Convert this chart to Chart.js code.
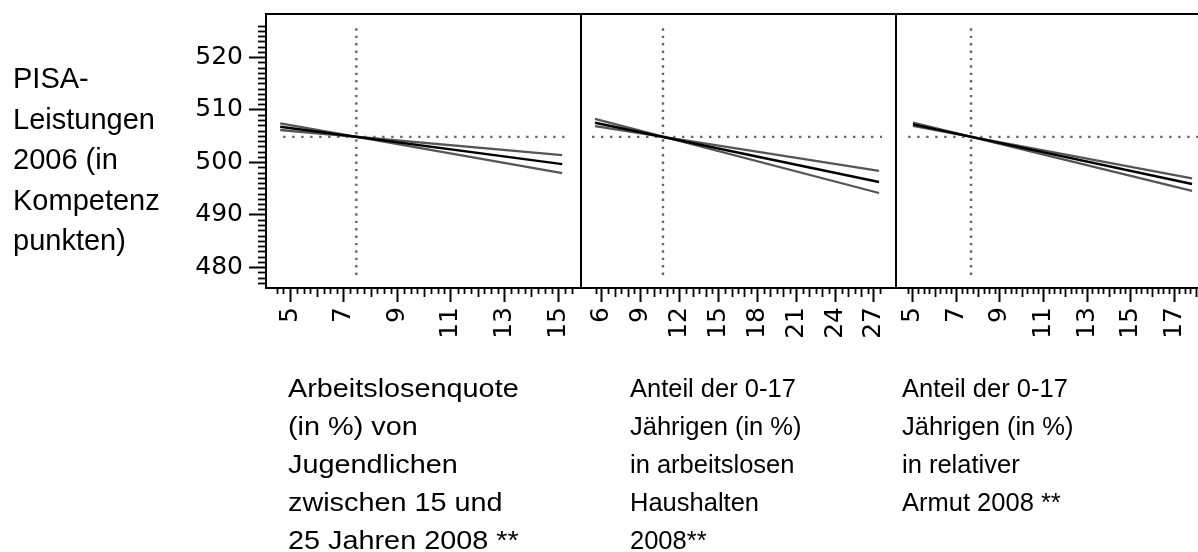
<!DOCTYPE html>
<html>
<head>
<meta charset="utf-8">
<script src="https://cdn.jsdelivr.net/npm/chart.js@4/dist/chart.umd.min.js"></script>
<style>
  html, body { margin: 0; padding: 0; background: #fff; overflow: hidden; }
  #wrap { position: relative; width: 1211px; height: 552px; }
  #chart { position: absolute; left: 0; top: 0; }
  .lbl { position: absolute; font-family: "Liberation Sans", Arial, sans-serif; color: #000; white-space: nowrap; }
  #ylab { left: 13px; top: 58px; font-size: 29px; line-height: 40.5px; }
  .xlab { top: 369px; font-size: 25.5px; line-height: 38px; }
  #xlab1 { left: 288px; transform: scaleX(1.13); transform-origin: left top; }
  #xlab2 { left: 630px; }
  #xlab3 { left: 902px; }
</style>
</head>
<body>
<div id="wrap">
  <canvas id="chart" width="1211" height="552"></canvas>
  <div class="lbl" id="ylab"></div>
  <div class="lbl xlab" id="xlab1"></div>
  <div class="lbl xlab" id="xlab2"></div>
  <div class="lbl xlab" id="xlab3"></div>
</div>
<script>
// y axis (PISA score)
const yTicks = [480, 490, 500, 510, 520];
const yLabel = ['PISA-', 'Leistungen', '2006 (in', 'Kompetenz', 'punkten)'];
const meanScore = 504.8;
const refLineY = [478.5, 525.7];

// panel 1: youth unemployment
const xTicks1 = [5, 7, 9, 11, 13, 15];
const meanX1 = 7.47;
const refLineX1 = [4.74, 15.37];
const lineX1 = [4.63, 15.15];
const fit1 = [506.7, 499.6];
const upper1 = [506.1, 501.3];
const lower1 = [507.35, 497.9];
const xLabel1 = ['Arbeitslosenquote', '(in %) von', 'Jugendlichen', 'zwischen 15 und', '25 Jahren 2008 **'];

// panel 2: children in jobless households
const xTicks2 = [6, 9, 12, 15, 18, 21, 24, 27];
const meanX2 = 10.71;
const refLineX2 = [5.23, 27.62];
const lineX2 = [5.46, 27.39];
const fit2 = [507.5, 496.2];
const upper2 = [506.85, 498.3];
const lower2 = [508.2, 494.1];
const xLabel2 = ['Anteil der 0-17', 'Jährigen (in %)', 'in arbeitslosen', 'Haushalten', '2008**'];

// panel 3: child poverty
const xTicks3 = [5, 7, 9, 11, 13, 15, 17];
const meanX3 = 7.67;
const refLineX3 = [4.78, 18.3];
const lineX3 = [5.0, 17.83];
const fit3 = [507.17, 495.8];
const upper3 = [506.9, 496.9];
const lower3 = [507.5, 494.5];
const xLabel3 = ['Anteil der 0-17', 'Jährigen (in %)', 'in relativer', 'Armut 2008 **'];

document.getElementById('ylab').innerHTML = yLabel.join('<br>');
document.getElementById('xlab1').innerHTML = xLabel1.join('<br>');
document.getElementById('xlab2').innerHTML = xLabel2.join('<br>');
document.getElementById('xlab3').innerHTML = xLabel3.join('<br>');

const pts = (xs, ys) => xs.map((x, i) => ({ x: x, y: ys[i] }));

const panels = [
  { id: 'x1', lineX: lineX1, fit: fit1, upper: upper1, lower: lower1, meanX: meanX1, refX: refLineX1 },
  { id: 'x2', lineX: lineX2, fit: fit2, upper: upper2, lower: lower2, meanX: meanX2, refX: refLineX2 },
  { id: 'x3', lineX: lineX3, fit: fit3, upper: upper3, lower: lower3, meanX: meanX3, refX: refLineX3 }
];

const datasets = [];
panels.forEach(p => {
  datasets.push({ data: pts(p.lineX, p.fit), xAxisID: p.id, borderColor: '#000', borderWidth: 2.5 });
});
panels.forEach(p => {
  datasets.push({ data: pts(p.lineX, p.upper), xAxisID: p.id, borderColor: '#555', borderWidth: 2.3 });
  datasets.push({ data: pts(p.lineX, p.lower), xAxisID: p.id, borderColor: '#555', borderWidth: 2.3 });
});
panels.forEach(p => {
  datasets.push({ data: pts(p.refX, [meanScore, meanScore]), xAxisID: p.id, borderColor: '#666', borderWidth: 2.4, borderDash: [2.4, 6.6] });
  datasets.push({ data: pts([p.meanX, p.meanX], refLineY), xAxisID: p.id, borderColor: '#666', borderWidth: 2.4, borderDash: [2.4, 5] });
});
datasets.forEach(d => { d.pointRadius = 0; d.fill = false; d.tension = 0; });

// minor ticks per x axis
const minorSpec = {
  x1: { from: 4.5, to: 15.5, step: 0.25, major: xTicks1 },
  x2: { from: 5.5, to: 27.5, step: 0.5, major: xTicks2 },
  x3: { from: 4.75, to: 18.5, step: 0.25, major: xTicks3 }
};

const frame = {
  id: 'frame',
  afterDraw(chart) {
    const { ctx, chartArea: a, scales } = chart;
    ctx.save();
    ctx.strokeStyle = '#000';
    ctx.lineWidth = 2;
    ctx.beginPath();
    ctx.moveTo(a.left, a.top); ctx.lineTo(a.right, a.top);
    ['x2', 'x3'].forEach(k => {
      const x = Math.round(scales[k].left);
      ctx.moveTo(x, a.top); ctx.lineTo(x, a.bottom);
    });
    ctx.stroke();

    // minor ticks on x axes
    Object.keys(minorSpec).forEach(k => {
      const s = minorSpec[k], sc = scales[k];
      const n = Math.round((s.to - s.from) / s.step);
      for (let i = 0; i <= n; i++) {
        const v = +(s.from + i * s.step).toFixed(3);
        if (s.major.includes(v)) continue;
        const px = Math.round(sc.getPixelForValue(v)) + 0.5;
        if (px > sc.right) continue;
        const len = Number.isInteger(v) ? 9 : 6;
        ctx.lineWidth = 1.8;
        ctx.beginPath();
        ctx.moveTo(px, a.bottom); ctx.lineTo(px, a.bottom + len);
        ctx.stroke();
      }
    });

    // minor ticks on y axis
    const ys = scales.y;
    for (let v = 477; v <= 526; v++) {
      if (yTicks.includes(v)) continue;
      const py = Math.round(ys.getPixelForValue(v)) + 0.5;
      ctx.lineWidth = 1.8;
      ctx.beginPath();
      ctx.moveTo(a.left, py); ctx.lineTo(a.left - 8, py);
      ctx.stroke();
    }
    ctx.restore();
  }
};

const xAxis = (ticks, min, max) => ({
  type: 'linear',
  position: 'bottom',
  stack: 'panels',
  stackWeight: 1,
  min: min,
  max: max,
  afterBuildTicks: s => { s.ticks = ticks.map(v => ({ value: v })); },
  afterFit: s => { s.height = 264; s.paddingLeft = 0; s.paddingRight = 0; },
  border: { display: true, color: '#000', width: 2 },
  grid: { display: true, drawOnChartArea: false, drawTicks: true, tickLength: 14, tickWidth: 2, tickColor: '#000' },
  ticks: {
    autoSkip: false, minRotation: 90, maxRotation: 90, padding: 5,
    color: '#000', font: { family: 'DejaVu Sans', size: 25 }
  }
});

new Chart(document.getElementById('chart'), {
  type: 'line',
  data: { datasets: datasets },
  options: {
    responsive: false,
    animation: false,
    devicePixelRatio: 1,
    layout: { padding: { top: 14, left: 0, right: 0, bottom: 0 } },
    plugins: { legend: { display: false }, tooltip: { enabled: false } },
    scales: {
      x1: xAxis(xTicks1, 4.10, 15.85),
      x2: xAxis(xTicks2, 4.38, 28.70),
      x3: xAxis(xTicks3, 4.22, 18.70),
      y: {
        type: 'linear',
        position: 'left',
        min: 476.0,
        max: 528.2,
        afterBuildTicks: s => { s.ticks = yTicks.map(v => ({ value: v })); },
        afterFit: s => { s.width = 266; s.paddingTop = 0; s.paddingBottom = 0; },
        border: { display: true, color: '#000', width: 2 },
        grid: { display: true, drawOnChartArea: false, drawTicks: true, tickLength: 17, tickWidth: 2, tickColor: '#000' },
        ticks: { padding: 6, color: '#000', font: { family: 'DejaVu Sans', size: 25 } }
      }
    }
  },
  plugins: [frame]
});
</script>
</body>
</html>
